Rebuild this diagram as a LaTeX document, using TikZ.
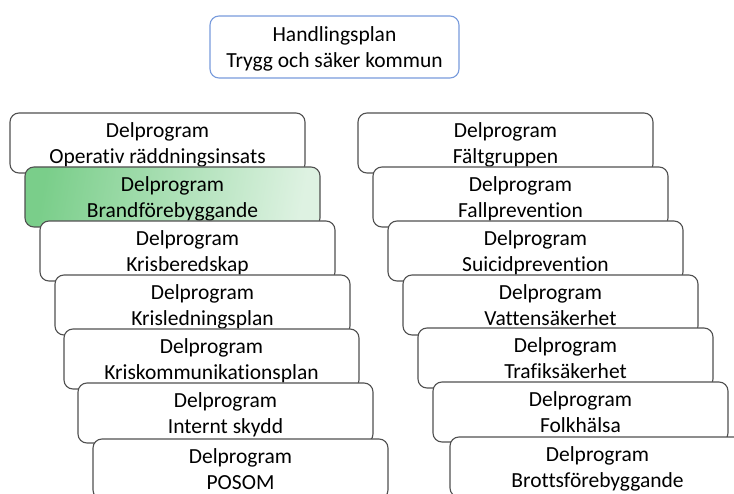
\documentclass[tikz,border=0pt]{standalone}
\usepackage{fontspec}
\setmainfont{Carlito}[Ligatures=CommonOff]
\usepackage{tikz}
\usepackage{color}
\definecolor{boxgray}{RGB}{80,80,80}
\definecolor{planblue}{RGB}{120,155,220}
\definecolor{greendark}{RGB}{122,206,138}
\definecolor{greenlight}{RGB}{222,242,226}

\begin{document}
\begin{tikzpicture}[x=1pt, y=-1pt,
	 minimum height=60pt, inner sep=0pt,
	 progbox/.style={draw=boxgray, fill=white, line width=1.1pt, rounded corners=9pt,
	   minimum width=295pt, align=center, text depth=0pt, font=\fontsize{21.5}{26}\selectfont},
	 planbox/.style={progbox, draw=planblue, minimum width=249pt, minimum height=62pt},
	 greenbox/.style={progbox, left color=greendark, right color=greenlight, shading angle=80}]
	    \useasboundingbox (0,0) rectangle (734,494);
	    \clip (0,0) rectangle (734,494);
	    \node at (334.5,47) [planbox] (plan) {Handlingsplan\\Trygg och säker kommun};
	    % left column
	    \node at (157.5,143) [progbox] (oper) {Delprogram\\Operativ räddningsinsats};
	    \node at (172.5,197) [greenbox] (brand) {Delprogram\\Brandförebyggande};
	    \node at (187.5,251) [progbox] (krisb) {Delprogram\\Krisberedskap};
	    \node at (202.5,305) [progbox] (krisl) {Delprogram\\Krisledningsplan};
	    \node at (211.5,359) [progbox] (krisk) {Delprogram\\Kriskommunikationsplan};
	    \node at (225.5,413) [progbox] (intern) {Delprogram\\Internt skydd};
	    \node at (240.5,469) [progbox] (posom) {Delprogram\\POSOM};
	    % right column
	    \node at (505.5,143) [progbox] (falt) {Delprogram\\Fältgruppen};
	    \node at (520.5,197) [progbox] (fall) {Delprogram\\Fallprevention};
	    \node at (535.5,251) [progbox] (suicid) {Delprogram\\Suicidprevention};
	    \node at (550.5,305) [progbox] (vatten) {Delprogram\\Vattensäkerhet};
	    \node at (565.5,358) [progbox] (trafik) {Delprogram\\Trafiksäkerhet};
	    \node at (580.5,412) [progbox] (folk) {Delprogram\\Folkhälsa};
	    \node at (597.5,467) [progbox] (brott) {Delprogram\\Brottsförebyggande};
\end{tikzpicture}
\end{document}
